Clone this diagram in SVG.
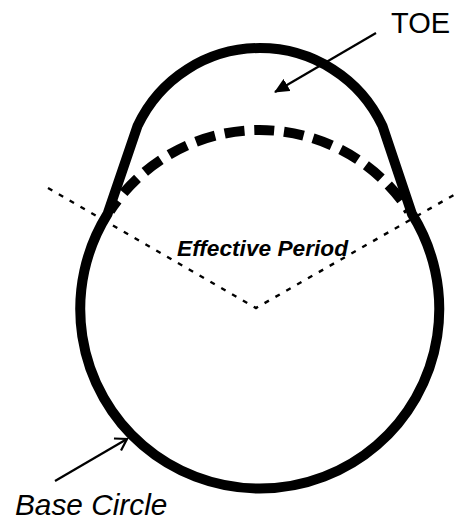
<svg xmlns="http://www.w3.org/2000/svg" width="460" height="521" viewBox="0 0 460 521">
<style>
text{font-family:"Liberation Sans",Arial,sans-serif;fill:#000}
.cam{fill:none;stroke:#000;stroke-width:10}
.dash{fill:none;stroke:#000;stroke-width:10;stroke-dasharray:20 9.8;stroke-dashoffset:7}
.dot{fill:none;stroke:#000;stroke-width:2.4;stroke-dasharray:5 7.5}
.arr{fill:none;stroke:#000;stroke-width:2.2}
</style>
<defs>
<marker id="solid" markerUnits="userSpaceOnUse" markerWidth="16" markerHeight="14" refX="14" refY="7" orient="auto"><path d="M0 0L15 7L0 14Z" fill="#000"/></marker>
<marker id="open" markerUnits="userSpaceOnUse" markerWidth="16" markerHeight="16" refX="14" refY="8" orient="auto"><path d="M3 1L14 8L3 15" fill="none" stroke="#000" stroke-width="2.2"/></marker>
</defs>
<g id="cam-profile"><path class="cam" d="M107.5 214A179.5 179.5 0 1 0 412 214L382.5 126A135.2 135.2 0 0 0 137.5 126L107.5 214Z"/></g>
<g id="nominal-arc"><path class="dash" d="M110 211A179 179 0 0 1 259.5 130A179 179 0 0 1 409 211"/></g>
<g id="connectors">
<path class="dot" d="M48 188L256 308L459 192"/>
<path class="arr" d="M376 33L275 92" marker-end="url(#solid)"/>
<path class="arr" d="M55 481L127 439" marker-end="url(#open)"/>
</g>
<g id="labels">
<text x="391" y="33" font-size="29">TOE</text>
<text x="15" y="514.5" font-size="29.8" font-style="italic">Base Circle</text>
<text x="177" y="256" font-size="22.7" font-style="italic" font-weight="bold">Effective Period</text>
</g>
</svg>
